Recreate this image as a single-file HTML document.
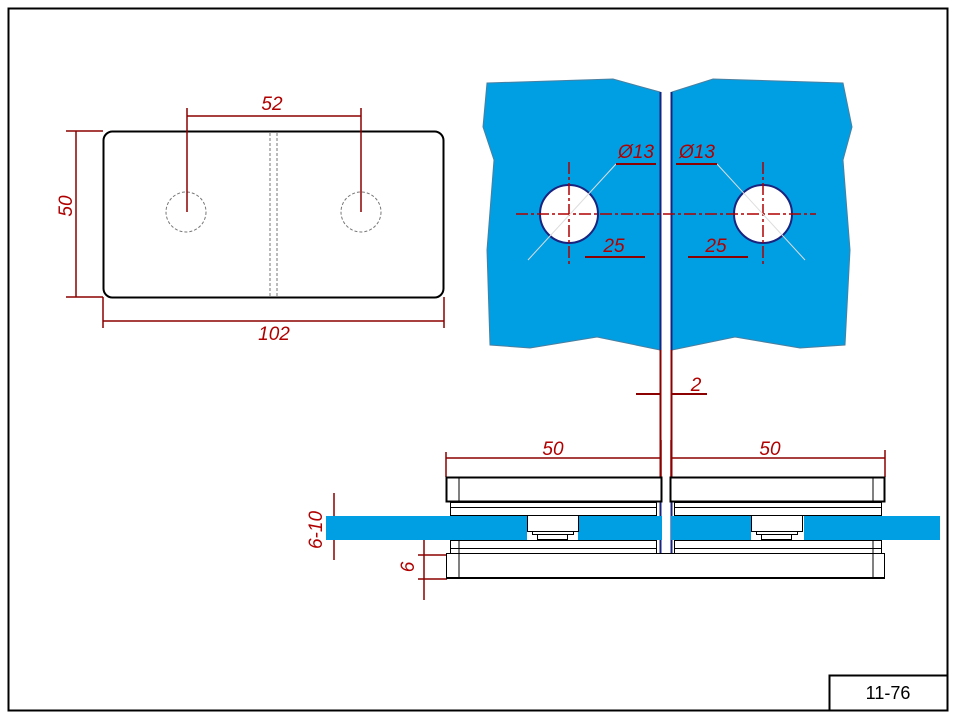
<!DOCTYPE html>
<html><head><meta charset="utf-8"><style>html,body{margin:0;padding:0;background:#fff}svg{display:block}</style></head>
<body>
<svg width="957" height="719" viewBox="0 0 957 719" xmlns="http://www.w3.org/2000/svg" font-family="Liberation Sans, sans-serif">
<rect x="0" y="0" width="957" height="719" fill="#fff"/>
<rect x="8.5" y="8.5" width="939" height="702" fill="none" stroke="#000" stroke-width="2"/>
<rect x="829.5" y="675.5" width="118" height="35" fill="none" stroke="#000" stroke-width="2"/>
<text x="888" y="699" font-size="18" text-anchor="middle" fill="#000">11-76</text>

<!-- left view -->
<rect x="103.5" y="131.5" width="340" height="166" rx="9" fill="none" stroke="#000" stroke-width="2"/>
<line x1="270" y1="133" x2="270" y2="296" stroke="#777" stroke-dasharray="3,2"/>
<line x1="277" y1="133" x2="277" y2="296" stroke="#777" stroke-dasharray="3,2"/>
<circle cx="186" cy="212" r="20" fill="none" stroke="#777" stroke-dasharray="3,2"/>
<circle cx="361" cy="212" r="20" fill="none" stroke="#777" stroke-dasharray="3,2"/>
<g stroke="#8b0000" stroke-width="1.5">
<line x1="187" y1="108" x2="187" y2="212"/><line x1="361" y1="108" x2="361" y2="212"/>
<line x1="187" y1="116" x2="361" y2="116"/>
<line x1="66" y1="131" x2="103" y2="131"/><line x1="66" y1="297" x2="103" y2="297"/>
<line x1="76" y1="131" x2="76" y2="297"/>
<line x1="103" y1="297" x2="103" y2="328"/><line x1="444" y1="297" x2="444" y2="328"/>
<line x1="103" y1="321" x2="444" y2="321"/>
</g>
<g fill="#b00000" font-size="19" font-style="italic" text-anchor="middle">
<text x="272" y="110">52</text>
<text x="274" y="340">102</text>
<text transform="translate(72,206) rotate(-90)">50</text>
</g>

<!-- glass top view -->
<polygon points="487,83 613,79 660,92 660,350 597,337 530,348 490,345 487,250 494,160 483,127" fill="#009fe3" stroke="#4a7fa0" stroke-width="1"/>
<polygon points="672,92 713,79 843,83 852,127 843,160 850,250 845,345 800,348 735,337 672,350" fill="#009fe3" stroke="#4a7fa0" stroke-width="1"/>
<line x1="660.5" y1="92" x2="660.5" y2="555" stroke="#1a237e" stroke-width="2"/>
<line x1="671.5" y1="92" x2="671.5" y2="555" stroke="#1a237e" stroke-width="2"/>
<line x1="660.5" y1="350" x2="660.5" y2="480" stroke="#8b0000" stroke-width="2"/>
<line x1="671.5" y1="350" x2="671.5" y2="480" stroke="#8b0000" stroke-width="2"/>
<circle cx="569" cy="214" r="29" fill="#fff" stroke="#1a237e" stroke-width="2"/>
<circle cx="763" cy="214" r="29" fill="#fff" stroke="#1a237e" stroke-width="2"/>
<g stroke="#b00000" stroke-width="1.5" stroke-dasharray="12,3,3,3">
<line x1="516" y1="214" x2="816" y2="214"/>
<line x1="569" y1="162" x2="569" y2="265"/>
<line x1="763" y1="162" x2="763" y2="265"/>
</g>
<g stroke="#ddd" stroke-width="1">
<line x1="528" y1="260" x2="616" y2="164"/>
<line x1="805" y1="260" x2="717" y2="164"/>
</g>
<g stroke="#8b0000" stroke-width="2">
<line x1="616" y1="164" x2="656" y2="164"/><line x1="676" y1="164" x2="717" y2="164"/>
<line x1="585" y1="257" x2="645" y2="257"/><line x1="688" y1="257" x2="748" y2="257"/>
<line x1="636" y1="394" x2="660" y2="394"/><line x1="672" y1="394" x2="707" y2="394"/>
</g>
<g fill="#b00000" font-size="19" font-style="italic" text-anchor="middle">
<text x="636" y="158">Ø13</text><text x="697" y="158">Ø13</text>
<text x="614" y="252">25</text><text x="716" y="252">25</text>
<text x="696" y="391">2</text>
<text x="553" y="455">50</text><text x="770" y="455">50</text>
<text transform="translate(322,530) rotate(-90)">6-10</text>
<text transform="translate(414,567) rotate(-90)">6</text>
</g>

<!-- side assembly -->
<g stroke="#8b0000" stroke-width="1.5">
<line x1="446" y1="452" x2="446" y2="477"/><line x1="661" y1="440" x2="661" y2="477"/>
<line x1="671" y1="440" x2="671" y2="477"/><line x1="885" y1="450" x2="885" y2="477"/>
<line x1="446" y1="458" x2="661" y2="458"/><line x1="671" y1="458" x2="885" y2="458"/>
<line x1="334" y1="493" x2="334" y2="560"/>
<line x1="424" y1="533" x2="424" y2="600"/>
<line x1="418" y1="555" x2="447" y2="555"/><line x1="418" y1="579" x2="447" y2="579"/>
</g>
<g fill="#fff" stroke="#000">
<rect x="446.5" y="477.5" width="215" height="24" stroke-width="2"/>
<rect x="670.5" y="477.5" width="214" height="24" stroke-width="2"/>
<line x1="459" y1="478" x2="459" y2="515"/><line x1="873" y1="478" x2="873" y2="515"/>
<rect x="450.5" y="502.5" width="206" height="5"/><rect x="450.5" y="507.5" width="206" height="8"/>
<rect x="674.5" y="502.5" width="207" height="5"/><rect x="674.5" y="507.5" width="207" height="8"/>
</g>
<rect x="326" y="516" width="336" height="24" fill="#009fe3"/>
<rect x="671" y="516" width="269" height="24" fill="#009fe3"/>
<g fill="#fff" stroke="#000">
<rect x="527" y="516" width="51" height="24" stroke="none"/>
<rect x="527.5" y="515.5" width="51" height="16"/>
<rect x="532.5" y="531.5" width="41" height="3"/>
<rect x="537.5" y="534.5" width="30" height="5"/>
<rect x="751" y="516" width="53" height="24" stroke="none"/>
<rect x="751.5" y="515.5" width="51" height="16"/>
<rect x="756.5" y="531.5" width="41" height="3"/>
<rect x="761.5" y="534.5" width="30" height="5"/>
<rect x="450.5" y="540.5" width="206" height="8"/><rect x="450.5" y="548.5" width="206" height="5"/>
<rect x="674.5" y="540.5" width="207" height="8"/><rect x="674.5" y="548.5" width="207" height="5"/>
<rect x="446.5" y="553.5" width="438" height="24"/>
<line x1="459" y1="540" x2="459" y2="578"/><line x1="873" y1="540" x2="873" y2="578"/>
</g>
<line x1="446" y1="578" x2="885" y2="578" stroke="#000" stroke-width="2"/>
</svg>
</body></html>
